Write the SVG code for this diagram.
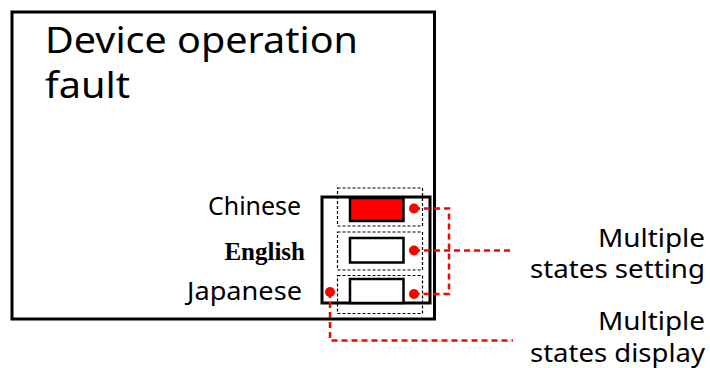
<svg xmlns="http://www.w3.org/2000/svg" width="710" height="368" viewBox="0 0 710 368">
<defs>
<style>
.sans{font-family:"Noto Sans","Open Sans","DejaVu Sans",sans-serif;fill:#000}
.solid{fill:#fff;stroke:#000;stroke-width:3}
.btn{fill:#fff;stroke:#000;stroke-width:2.5}
.dot{fill:none;stroke:#000;stroke-width:1.2;stroke-dasharray:3 2}
.red{fill:none;stroke:#f00;stroke-width:2.5;stroke-dasharray:6 4}
.rd{fill:#f00}
</style>
</defs>
<g id="panel">
<rect class="solid" x="12" y="12" width="422.5" height="307"/>
<text class="sans" x="45" y="53" font-size="37" textLength="313" lengthAdjust="spacingAndGlyphs">Device operation</text>
<text class="sans" x="45" y="98" font-size="37" textLength="85" lengthAdjust="spacingAndGlyphs">fault</text>
</g>
<g id="selector">
<rect class="solid" x="322" y="197" width="108" height="106" stroke-width="2.5"/>
<rect class="dot" x="337.5" y="188" width="85" height="38"/>
<rect class="dot" x="337.5" y="232" width="85" height="38"/>
<rect class="dot" x="337.5" y="275.5" width="85" height="38"/>
<rect class="btn" x="350" y="198" width="53.5" height="23" style="fill:#f00"/>
<rect class="btn" x="350" y="238" width="53.5" height="24.5"/>
<rect class="btn" x="350" y="279" width="53.5" height="24"/>
</g>
<g id="labels">
<text class="sans" x="208" y="215" font-size="26" textLength="93" lengthAdjust="spacingAndGlyphs">Chinese</text>
<text x="305" y="260" font-size="25" font-weight="bold" text-anchor="end" font-family="'Liberation Serif','Times New Roman',serif">English</text>
<text class="sans" x="187" y="300" font-size="26" textLength="115" lengthAdjust="spacingAndGlyphs">Japanese</text>
</g>
<g id="setting-label">
<text class="sans" x="598" y="247" font-size="26" textLength="107" lengthAdjust="spacingAndGlyphs">Multiple</text>
<text class="sans" x="530" y="278" font-size="26" textLength="175" lengthAdjust="spacingAndGlyphs">states setting</text>
</g>
<g id="display-label">
<text class="sans" x="598" y="330" font-size="26" textLength="107" lengthAdjust="spacingAndGlyphs">Multiple</text>
<text class="sans" x="530" y="362" font-size="26" textLength="175" lengthAdjust="spacingAndGlyphs">states display</text>
</g>
<g id="connectors">
<path class="red" d="M414 208.5H449V294H414"/>
<path class="red" d="M414 250.5H513"/>
<path class="red" d="M330 292V340.5H513"/>
<circle class="rd" cx="414" cy="208.5" r="5"/>
<circle class="rd" cx="414" cy="250.5" r="5"/>
<circle class="rd" cx="414" cy="294" r="5"/>
<circle class="rd" cx="330" cy="292" r="5"/>
</g>
</svg>
